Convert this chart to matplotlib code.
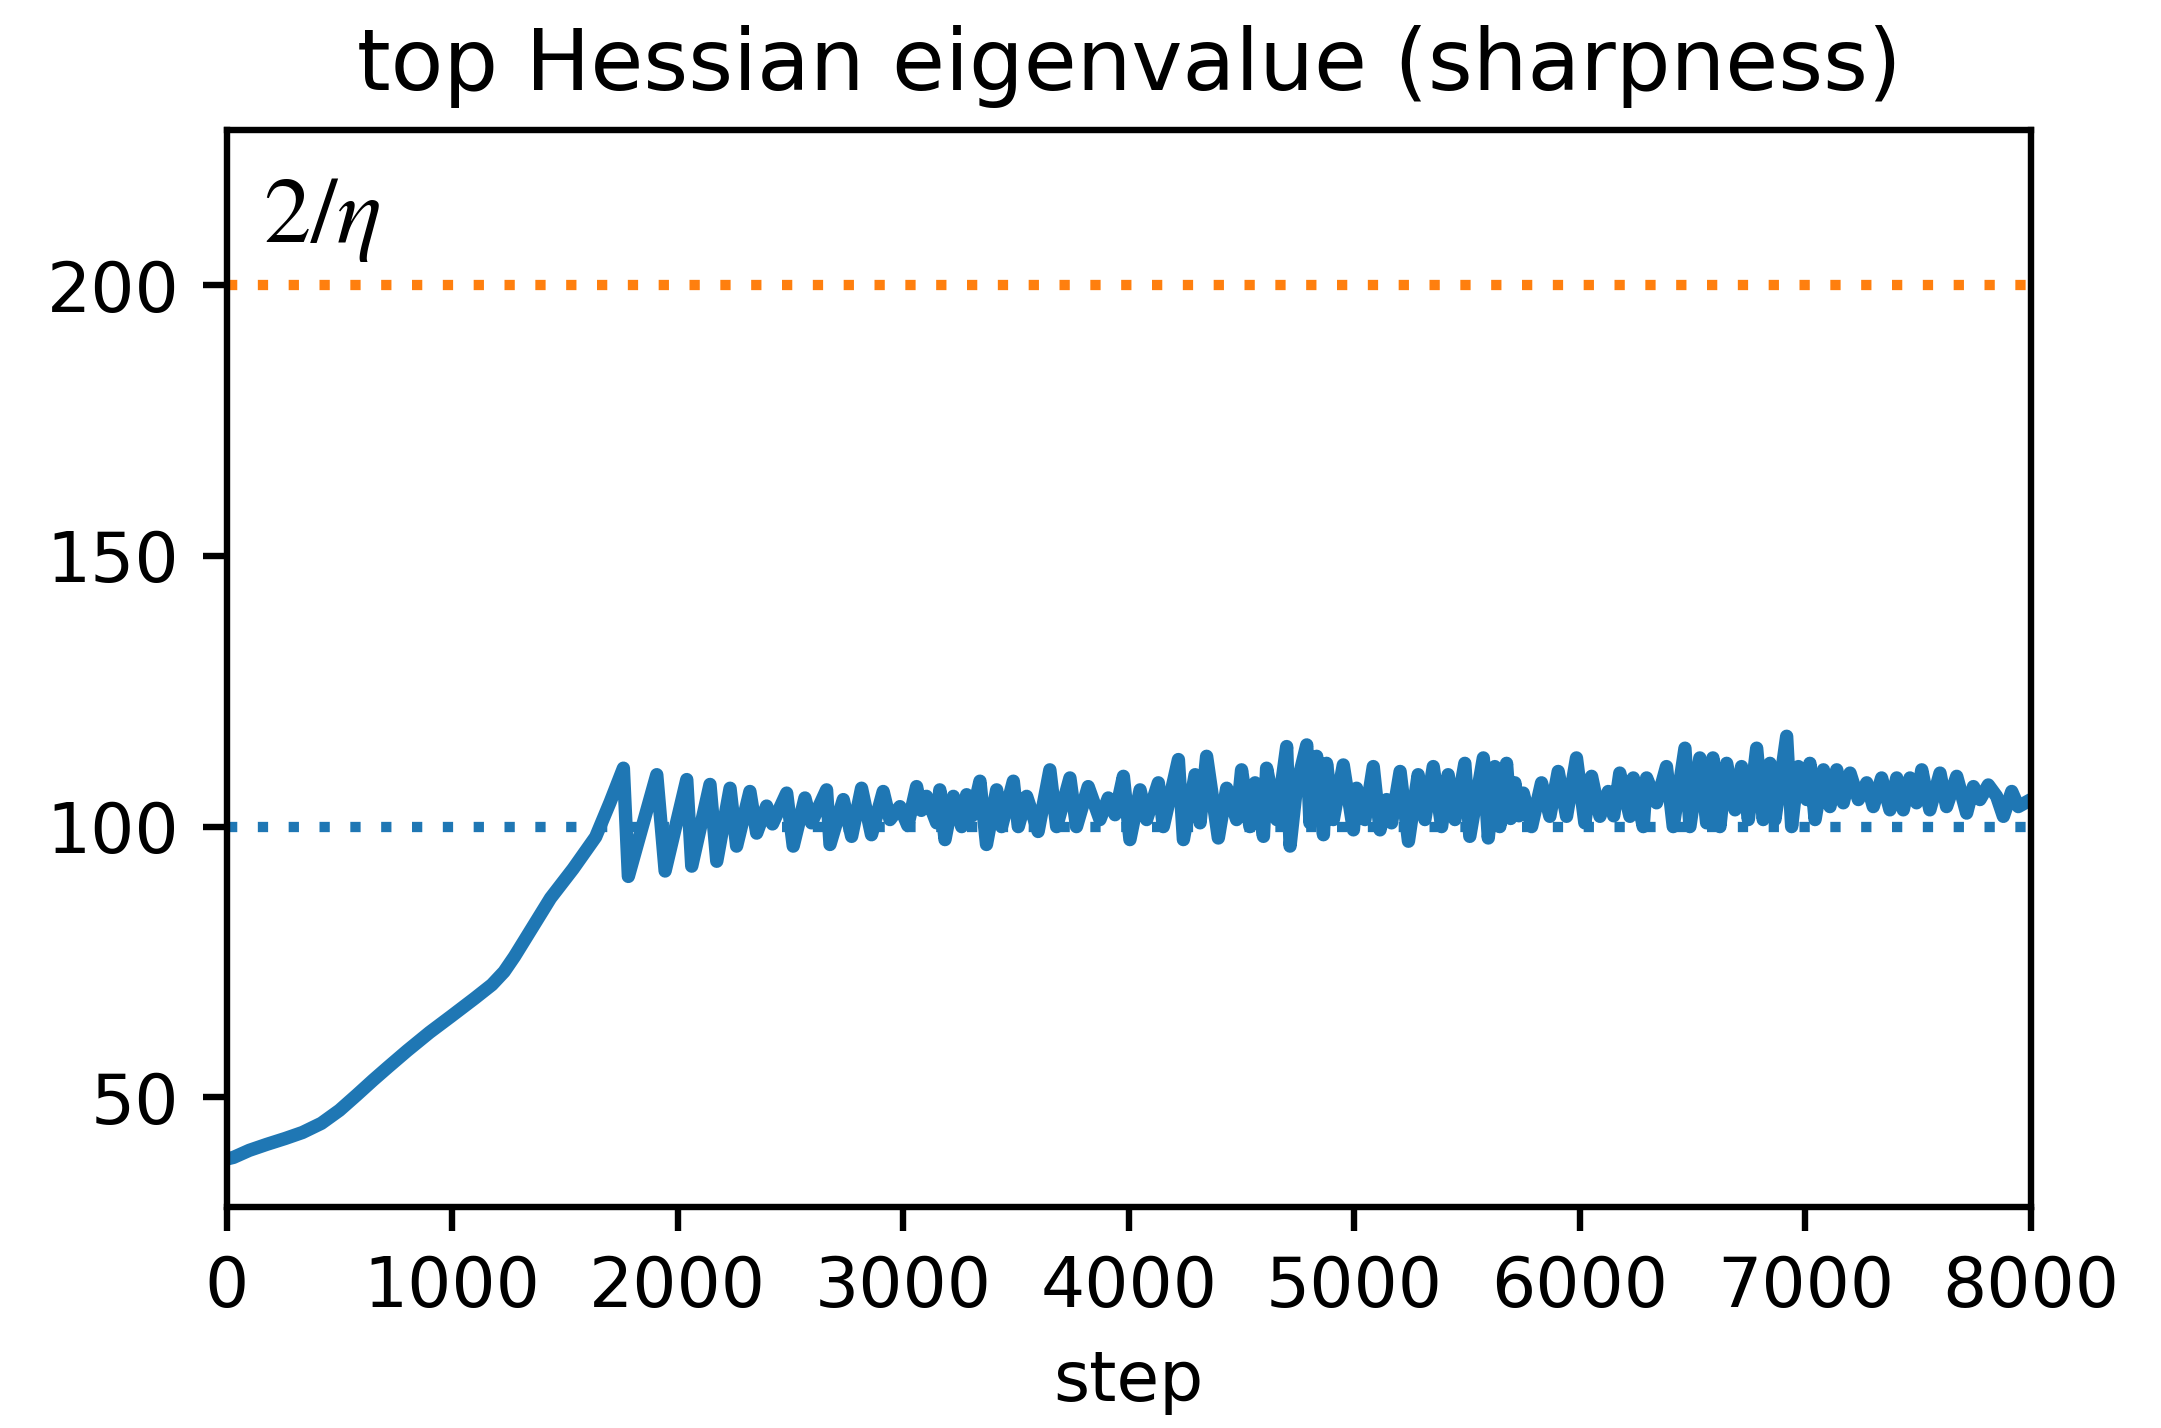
import matplotlib
matplotlib.use("Agg")
import matplotlib.pyplot as plt

# ---- data ----
ramp_steps = [0, 30, 100, 177, 260, 336, 420, 500, 576, 650, 716, 800, 900, 996,
              1100, 1176, 1230, 1276, 1356, 1436, 1536, 1636, 1700, 1759]
ramp_vals = [38.6, 38.9, 40.2, 41.3, 42.4, 43.5, 45.2, 47.6, 50.4, 53.2, 55.6, 58.6,
             62.0, 65.0, 68.3, 70.8, 73.2, 76.0, 81.4, 86.8, 92.2, 98.1, 104.5, 110.8]

osc_steps = [1781, 1907, 1944, 2040, 2062, 2143, 2173, 2232, 2261, 2320, 2350, 2394,
             2420, 2483, 2512, 2564, 2593, 2660, 2675, 2734, 2771, 2815, 2859, 2911,
             2941, 2985, 3020, 3059, 3080, 3103, 3148, 3162, 3185, 3222, 3259, 3281,
             3305, 3340, 3369, 3414, 3436, 3488, 3510, 3547, 3598, 3650, 3680, 3739,
             3768, 3820, 3872, 3909, 3939, 3976, 4005, 4050, 4079, 4131, 4153, 4220,
             4242, 4294, 4316, 4345, 4397, 4434, 4478, 4500, 4537, 4560, 4597, 4611,
             4656, 4700, 4715, 4744, 4789, 4803, 4833, 4863, 4877, 4907, 4951, 4996,
             5010, 5047, 5084, 5114, 5143, 5165, 5203, 5240, 5283, 5313, 5350, 5387,
             5416, 5446, 5490, 5512, 5572, 5594, 5623, 5645, 5675, 5693, 5712, 5730,
             5749, 5786, 5830, 5867, 5904, 5941, 5985, 6022, 6052, 6089, 6126, 6150,
             6177, 6222, 6237, 6281, 6296, 6340, 6384, 6414, 6466, 6488, 6532, 6562,
             6590, 6621, 6651, 6688, 6717, 6747, 6784, 6813, 6843, 6865, 6917, 6939,
             6969, 7006, 7020, 7043, 7080, 7109, 7139, 7168, 7198, 7235, 7272, 7301,
             7338, 7375, 7405, 7434, 7464, 7493, 7516, 7552, 7597, 7626, 7671, 7715,
             7745, 7774, 7811, 7848, 7878, 7915, 7944, 8000]
osc_vals = [90.8, 109.6, 91.8, 108.7, 92.7, 107.8, 93.6, 107.1, 96.4, 106.5, 98.8, 103.8,
            100.5, 106.2, 96.4, 105.3, 100.7, 106.8, 96.7, 105.0, 98.2, 107.1, 98.5, 106.5,
            101.3, 103.7, 100.2, 107.4, 103.0, 105.6, 100.7, 106.8, 97.6, 105.6, 100.0, 105.9,
            102.0, 108.4, 96.7, 106.8, 100.0, 108.4, 100.0, 105.6, 99.1, 110.5, 100.0, 109.0,
            100.0, 107.4, 101.3, 105.3, 102.2, 109.3, 97.6, 106.8, 101.3, 108.1, 100.0, 112.4,
            97.6, 109.6, 100.7, 113.0, 97.9, 107.1, 101.3, 110.5, 100.0, 108.1, 98.2, 110.8,
            101.3, 114.8, 96.4, 107.4, 115.1, 100.7, 113.0, 98.5, 111.7, 101.3, 111.4, 99.4,
            107.1, 101.3, 111.1, 99.4, 105.0, 100.7, 110.2, 97.3, 109.6, 101.3, 111.1, 100.0,
            109.6, 101.3, 111.7, 98.2, 112.7, 97.9, 111.1, 100.0, 111.7, 101.5, 108.1, 102.0,
            106.2, 100.0, 108.1, 101.9, 110.2, 101.9, 112.7, 100.7, 109.3, 101.9, 106.5, 102.0,
            109.9, 101.9, 109.0, 100.0, 109.0, 104.4, 111.1, 100.0, 114.5, 100.0, 112.7, 100.7,
            112.7, 100.0, 111.7, 103.1, 111.1, 101.3, 114.5, 101.3, 111.7, 101.3, 116.7, 100.0,
            111.1, 105.0, 111.7, 101.3, 110.5, 103.7, 110.5, 104.4, 109.9, 105.0, 108.1, 103.7,
            109.0, 103.1, 109.0, 103.1, 109.0, 104.4, 110.5, 103.1, 109.9, 103.7, 109.3, 102.5,
            107.4, 105.0, 107.7, 105.6, 101.9, 106.5, 103.7, 105.0]

steps = ramp_steps + osc_steps
sharpness = ramp_vals + osc_vals

two_over_eta = 200.0   # 2/eta threshold
half_threshold = 100.0

title = "top Hessian eigenvalue (sharpness)"
xlabel = "step"
xticks = [0, 1000, 2000, 3000, 4000, 5000, 6000, 7000, 8000]
yticks = [50, 100, 150, 200]

# ---- figure ----
plt.rcParams["mathtext.fontset"] = "stix"
fig = plt.figure(figsize=(10.805, 7.14), dpi=200)
ax = fig.add_axes([0.1049, 0.1550, 0.8349, 0.7540])

blue = "#1f77b4"
orange = "#ff7f0e"

ax.axhline(two_over_eta, color=orange, lw=3.7, linestyle=(0, (1, 2.0)))
ax.axhline(half_threshold, color=blue, lw=3.7, linestyle=(0, (1, 2.0)))
ax.plot(steps, sharpness, color=blue, lw=4.8, solid_joinstyle="round",
        solid_capstyle="round")

ax.text(160, 208, r"$2/\eta$", fontsize=34, ha="left", va="baseline")

ax.set_xlim(0, 8000)
ax.set_ylim(29.8, 228.7)
ax.set_xticks(xticks)
ax.set_yticks(yticks)
ax.tick_params(labelsize=25, length=8.6, width=2.3, pad=8.4)
for sp in ax.spines.values():
    sp.set_linewidth(2.3)
ax.set_title(title, fontsize=31, pad=14.4)
ax.set_xlabel(xlabel, fontsize=25, labelpad=9.6)

fig.savefig("out.png", dpi=200)
